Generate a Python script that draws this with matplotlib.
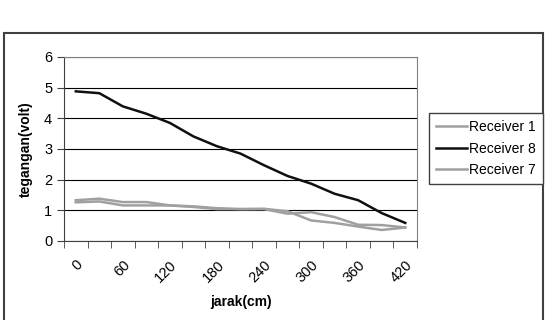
import matplotlib
matplotlib.use('Agg')
import matplotlib.pyplot as plt
from matplotlib.patches import Rectangle
from matplotlib.transforms import ScaledTranslation

plt.rcParams['font.family'] = ['Liberation Sans', 'DejaVu Sans']

# jarak categories (cm)
jarak = [0, 30, 60, 90, 120, 150, 180, 210, 240, 270, 300, 330, 360, 390, 420]
receiver1 = [1.33, 1.38, 1.27, 1.27, 1.16, 1.13, 1.07, 1.04, 1.04, 0.89, 0.94, 0.78, 0.53, 0.52, 0.44]
receiver8 = [4.88, 4.82, 4.39, 4.15, 3.85, 3.41, 3.09, 2.85, 2.47, 2.12, 1.87, 1.54, 1.33, 0.91, 0.59]
receiver7 = [1.26, 1.29, 1.16, 1.16, 1.16, 1.11, 1.04, 1.04, 1.05, 0.97, 0.67, 0.59, 0.47, 0.36, 0.44]

fig = plt.figure(figsize=(5.49, 3.2), dpi=100)
# chart area border
fig.patches.append(Rectangle((4 / 549, -0.1), 539 / 549, 1.1 - 33 / 320,
                             transform=fig.transFigure, fill=False,
                             edgecolor='#404040', lw=1.5))

ax = fig.add_axes([64 / 549, 1 - 241 / 320, 353 / 549, 184 / 320])
x = list(range(len(jarak)))
ax.plot(x, receiver1, color='#a0a0a0', lw=1.8, label='Receiver 1')
ax.plot(x, receiver8, color='#101010', lw=1.8, label='Receiver 8')
ax.plot(x, receiver7, color='#a0a0a0', lw=1.8, label='Receiver 7')

ax.set_xlim(-0.5, len(jarak) - 0.5)
ax.set_ylim(0, 6)
ax.set_yticks(range(7))
ax.yaxis.grid(True, color='#000000', lw=0.8)
ax.set_axisbelow(True)

# ticks between categories, labels on every other category
ax.set_xticks([i - 0.5 for i in range(len(jarak) + 1)], minor=True)
ax.set_xticks(x[::2])
ax.set_xticklabels([str(j) for j in jarak[::2]], rotation=45, ha='right',
                   va='top', rotation_mode='anchor')
shift = ScaledTranslation(-6 / 100, 0, fig.dpi_scale_trans)
for lab in ax.get_xticklabels():
    lab.set_transform(lab.get_transform() + shift)
ax.tick_params(axis='x', which='major', length=0, pad=12, labelsize=10.5)
ax.tick_params(axis='x', which='minor', length=5, color='#404040')
ax.tick_params(axis='y', length=5, color='#404040', labelsize=10.5)

for side in ['top', 'right']:
    ax.spines[side].set_color('#808080')
for side in ['left', 'bottom']:
    ax.spines[side].set_color('#404040')

ax.set_ylabel('tegangan(volt)', fontweight='bold', fontsize=10, labelpad=8)
ax.set_xlabel('jarak(cm)', fontweight='bold', fontsize=10, labelpad=7)

leg = fig.legend(loc='upper left', bbox_to_anchor=(429 / 549, 1 - 113 / 320),
                 fancybox=False, framealpha=1, edgecolor='#404040',
                 fontsize=10, handlelength=2.2, borderpad=0.5,
                 labelspacing=0.55, handletextpad=0.2, borderaxespad=0)
leg.get_frame().set_linewidth(1.0)

fig.savefig('out.png', dpi=100)
